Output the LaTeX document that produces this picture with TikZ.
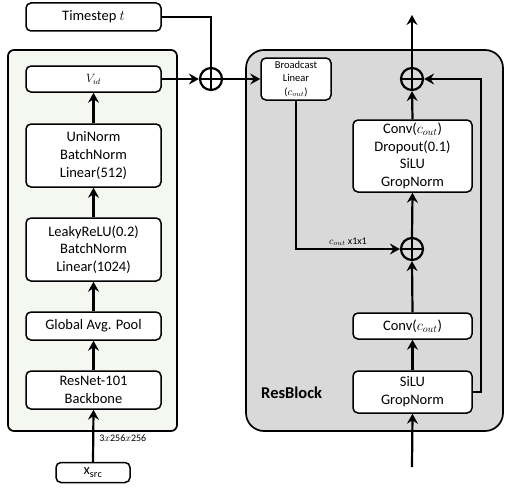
\documentclass[tikz,border=0pt]{standalone}
\usepackage{fontspec}
\setmainfont{Carlito}
\usetikzlibrary{arrows.meta,calc}
\definecolor{leftbg}{RGB}{245,248,241}
\definecolor{rightbg}{RGB}{217,217,217}
\begin{document}
\begin{tikzpicture}[x=1pt,y=-1pt,
 box/.style={draw, line width=1.5pt, rounded corners=5pt, fill=white, align=center, inner sep=0pt, font=\fontsize{14.5}{17.7}\selectfont},
 smallbox/.style={box, font=\fontsize{10.5}{13.3}\selectfont},
 container/.style={draw, line width=1.7pt, inner sep=0pt},
 arr/.style={line width=2.2pt, -{Stealth[length=10pt,width=11pt,inset=3.5pt]}},
 ln/.style={line width=2.2pt},
 lab/.style={font=\fontsize{10}{12}\selectfont, inner sep=1pt},
 oplus/.style={draw, circle, line width=2.2pt, minimum size=22pt, inner sep=0pt,
   path picture={\draw[line width=2.2pt] (path picture bounding box.north) -- (path picture bounding box.south) (path picture bounding box.west) -- (path picture bounding box.east);}},
]
\useasboundingbox (0,0) rectangle (505,495);

% containers
\node[container, fill=leftbg, rounded corners=6pt, minimum width=169pt, minimum height=381pt] (left) at (92.5,240.5) {};
\node[container, fill=rightbg, rounded corners=18pt, minimum width=257pt, minimum height=381pt] (right) at (374.5,240.5) {};

% left column
\node[box, minimum width=135pt, minimum height=28pt] (ts) at (93.5,17) {Timestep $t$};
\node[box, minimum width=135pt, minimum height=26pt] (vid) at (93.5,79) {\large$V_{id}$};
\node[box, minimum width=135pt, minimum height=63pt] (uni) at (93.5,155.5) {UniNorm\\BatchNorm\\Linear(512)};
\node[box, minimum width=135pt, minimum height=63pt] (leaky) at (93.5,249.5) {LeakyReLU(0.2)\\BatchNorm\\Linear(1024)};
\node[box, minimum width=135pt, minimum height=28pt] (gap) at (93.5,326) {Global Avg. Pool};
\node[box, minimum width=135pt, minimum height=38pt] (resnet) at (93.5,390) {ResNet-101\\Backbone};
\node[box, minimum width=74pt, minimum height=20pt] (xsrc) at (93,472.5) {$\mathrm{x}_{\mathrm{src}}$};

% right column
\node[smallbox, minimum width=70pt, minimum height=42pt] (bc) at (296,79) {Broadcast\\Linear\\($c_{out}$)};
\node[box, minimum width=119pt, minimum height=72pt] (conv1) at (412.5,156) {Conv($c_{out}$)\\Dropout(0.1)\\SiLU\\GropNorm};
\node[box, minimum width=119pt, minimum height=26pt] (conv2) at (412.5,326) {Conv($c_{out}$)};
\node[box, minimum width=119pt, minimum height=42pt] (silu) at (412.5,392) {SiLU\\GropNorm};
\node[font=\fontsize{16.5}{20}\selectfont\bfseries, anchor=west, inner sep=0pt] (rb) at (261,393) {ResBlock};

% sum nodes
\node[oplus] (c1) at (211,79) {};
\node[oplus] (c2) at (412,79) {};
\node[oplus] (c3) at (412,249) {};

\coordinate (in) at (412,467);
\coordinate (out) at (412,15);
\coordinate (skipx) at (481,0);

% left connectors
\draw[arr] (xsrc.north) -- node[lab, right, pos=0.45, xshift=4pt] {3$x$256$x$256} (resnet.south);
\draw[arr] (resnet.north) -- (gap.south);
\draw[arr] (gap.north) -- (leaky.south);
\draw[arr] (leaky.north) -- (uni.south);
\draw[arr] (uni.north) -- (vid.south);
\draw[arr] (vid.east) -- (c1.west);
\draw[ln] (ts.east) -| (c1.north);
\draw[arr] (c1.east) -- (bc.west);

% right connectors
\draw[arr] (bc.south) |- node[lab, pos=0.75, above=1pt] {$c_{out}$ x1x1} (c3.west);
\draw[arr] (in) -- (silu.south);
\draw[arr] (silu.north) -- (conv2.south);
\draw[arr] (conv2.north) -- (c3.south);
\draw[arr] (c3.north) -- (conv1.south);
\draw[arr] (conv1.north) -- (c2.south);
\draw[arr] (c2.north) -- (out);
\draw[arr] (silu.east) -- (silu.east -| skipx) |- (c2.east);
\end{tikzpicture}
\end{document}
